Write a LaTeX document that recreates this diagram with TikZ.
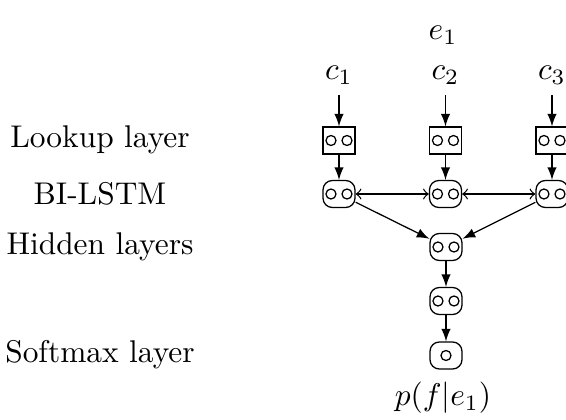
\documentclass[tikz,border=0pt]{standalone}
\usetikzlibrary{arrows}
\begin{document}
\begin{tikzpicture}[x=0.3185pt,y=-0.3185pt,
  cell/.style={draw,minimum width=10.2pt,minimum height=8.6pt,inner sep=0pt},
  rcell/.style={cell,rounded corners=3pt},
  twoc/.style={path picture={
    \draw[sharp corners] ([xshift=-2.55pt]path picture bounding box.center) circle (1.6pt);
    \draw[sharp corners] ([xshift=2.55pt]path picture bounding box.center) circle (1.6pt);}},
  onec/.style={path picture={
    \draw[sharp corners] (path picture bounding box.center) circle (1.6pt);}},
  down/.style={-latex},
  lab/.style={inner sep=0pt}]
\useasboundingbox (0,0) rectangle (566,420);
\begin{scope}
\clip (0,0) rectangle (566,420);
% labels
\node[lab] (tl) at (100,140) {Lookup layer};
\node[lab] (tb) at (100,194) {BI-LSTM};
\node[lab] (th) at (100,247) {Hidden layers};
\node[lab] (ts) at (100,355) {Softmax layer};
% inputs
\node (e1) at (443,35) {$e_1$};
\node (c1) at (339,75) {$c_1$};
\node (c2) at (445.5,75) {$c_2$};
\node (c3) at (552,75) {$c_3$};
% lookup
\node[cell,twoc] (l1) at (339,140.5) {};
\node[cell,twoc] (l2) at (445.5,140.5) {};
\node[cell,twoc] (l3) at (552,140.5) {};
% bi-lstm
\node[rcell,twoc] (b1) at (339,194) {};
\node[rcell,twoc] (b2) at (445.5,194) {};
\node[rcell,twoc] (b3) at (552,194) {};
% hidden
\node[rcell,twoc] (h1) at (446,247) {};
\node[rcell,twoc] (h2) at (446,301) {};
% softmax
\node[rcell,onec] (s) at (446,355.5) {};
\node (p) at (443,398) {$p(f|e_1)$};
% connectors
\draw[down] (c1) -- (l1);
\draw[down] (c2) -- (l2);
\draw[down] (c3) -- (l3);
\draw[down] (l1) -- (b1);
\draw[down] (l2) -- (b2);
\draw[down] (l3) -- (b3);
\draw[<->] (b1) -- (b2);
\draw[<->] (b2) -- (b3);
\draw[down] (b1) -- (h1);
\draw[down] (b3) -- (h1);
\draw[down] (h1) -- (h2);
\draw[down] (h2) -- (s);
\end{scope}
\end{tikzpicture}
\end{document}
